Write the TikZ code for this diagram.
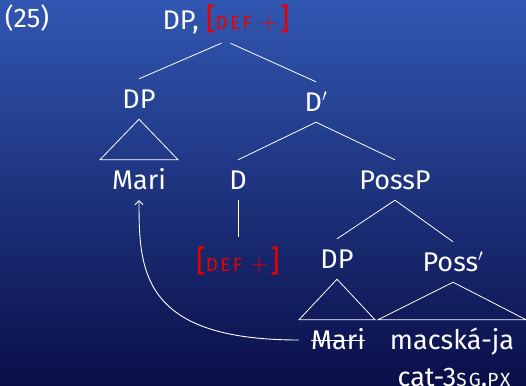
\documentclass[tikz,border=0pt]{standalone}
\usepackage{fontspec}
\setmainfont{Fira Sans}
\usetikzlibrary{arrows.meta}
\definecolor{defred}{RGB}{235,0,0}
\definecolor{bgtop}{RGB}{49,87,178}
\definecolor{bgbot}{RGB}{10,14,72}
\newcommand\fsc[1]{{\fontsize{19}{19}\selectfont\addfontfeature{LetterSpace=12}#1}}
\newcommand\bigf{\fontsize{30}{30}\selectfont}
\newcommand\redfeat{\textcolor{defred}{{\bigf[}\fsc{DEF}\hspace{8pt}{\fontsize{28}{28}\selectfont$+$}\hspace{2pt}{\bigf]}}}
\begin{document}
\begin{tikzpicture}[x=1pt,y=-1pt,
  tn/.style={text=white, inner xsep=0pt, inner ysep=9pt, text height=20pt, text depth=2pt,
    anchor=base, font=\fontsize{27}{32}\selectfont},
  br/.style={draw=white, line width=0.8pt},
  tri/.style={draw=white, line width=0.8pt, line join=miter},
  mv/.style={draw=white, line width=0.9pt, -{Straight Barb[length=4pt,width=8pt]}}]
\shade[top color=bgtop, bottom color=bgbot] (0,0) rectangle (526,385);
\useasboundingbox (0,0) rectangle (526,385);
\clip (0,0) rectangle (526,385);

\node[tn] (ex) at (27,28) {(25)};
\node[tn] (top) at (226,30) {DP, \redfeat};
\node[tn] (dp1) at (139,108) {DP};
\node[tn] (dbar) at (316,111) {D$'$};
\node[tn] (mari1) at (139,189) {Mari};
\node[tn] (d) at (238,189) {D};
\node[tn] (possp) at (395,189) {PossP};
\node[tn, text height=25pt] (def) at (238,271) {\redfeat};
\node[tn] (dp2) at (337,268) {DP};
\node[tn] (possbar) at (453,271) {Poss$'$};
\node[tn] (mari2) at (338,349) {Mari};
\node[tn] (mac) at (452,349) {macská-ja};
\node[tn, inner ysep=0pt] (gloss) at (454,386) {cat-3\fsc{SG}.\fsc{PX}};

\draw[br, shorten <=5pt] (top.south) -- (dp1.north);
\draw[br, shorten <=5pt] (top.south) -- (dbar.north);
\draw[br] (dbar.south) -- (d.north);
\draw[br] (dbar.south) -- (possp.north);
\draw[br] (d.south) -- (def.north);
\draw[br] (possp.south) -- (dp2.north);
\draw[br] (possp.south) -- (possbar.north);

\draw[tri] (dp1.south) -- ([xshift=-12pt]mari1.north west) -- ([xshift=12pt]mari1.north east) -- cycle;
\draw[tri] (dp2.south) -- ([xshift=-12pt]mari2.north west) -- ([xshift=10pt]mari2.north east) -- cycle;
\draw[tri] (possbar.south) -- ([xshift=-12pt]mac.north west) -- ([xshift=12pt]mac.north east) -- cycle;

\draw[br] (mari2.west) -- (mari2.east);
\draw[mv] ([xshift=-12pt]mari2.west) .. controls +(-158,0) and +(0,70) .. (mari1.south);
\end{tikzpicture}
\end{document}
